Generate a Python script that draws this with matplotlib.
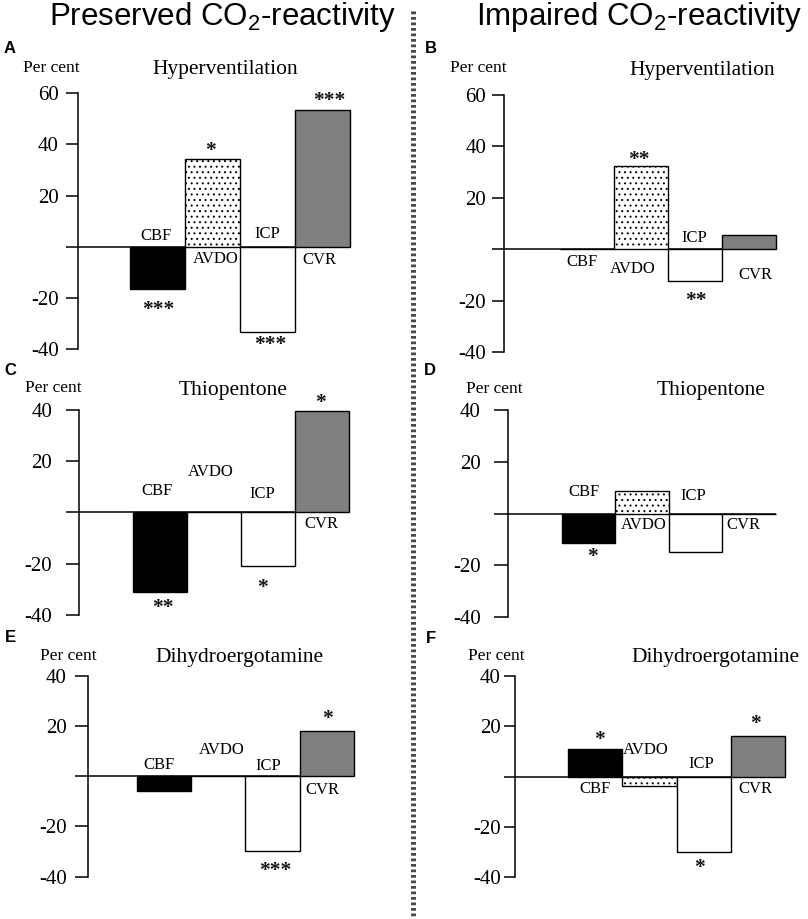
import matplotlib
matplotlib.use('Agg')
import numpy as np
import matplotlib.pyplot as plt
from matplotlib.lines import Line2D
from matplotlib.transforms import ScaledTranslation

plt.rcParams['mathtext.fontset'] = 'custom'
plt.rcParams['mathtext.rm'] = 'Liberation Sans'
plt.rcParams['mathtext.it'] = 'Liberation Sans:italic'
plt.rcParams['mathtext.bf'] = 'Liberation Sans:bold'
plt.rcParams['hatch.linewidth'] = 0.7
plt.rcParams['axes.unicode_minus'] = False

# ---------------- data ----------------
categories = ['CBF', 'AVDO', 'ICP', 'CVR']

hyper_preserved = [-16.4, 34.2, -33.3, 53.4]
hyper_impaired = [0.0, 32.5, -12.2, 5.5]
thio_preserved = [-30.9, 0.0, -20.7, 39.5]
thio_impaired = [-11.3, 8.7, -14.7, 0.0]
dhe_preserved = [-5.9, 0.0, -29.7, 18.1]
dhe_impaired = [11.0, -3.7, -30.3, 16.2]

sig_hyper_preserved = ['***', '*', '***', '***']
sig_hyper_impaired = ['', '**', '**', '']
sig_thio_preserved = ['**', '', '*', '*']
sig_thio_impaired = ['*', '', '', '']
sig_dhe_preserved = ['', '', '***', '*']
sig_dhe_impaired = ['*', '', '*', '*']

yticks_hyper = [60, 40, 20, -20, -40]
yticks_other = [40, 20, -20, -40]

column_titles = ['Preserved CO$_2$-reactivity', 'Impaired CO$_2$-reactivity']

# ---------------- styles / layout ----------------
W, H, DPI = 808, 919, 100
fills = ['black', 'white', 'white', '#808080']
hatches = [None, '...', None, None]
SERIF = 'Liberation Serif'
SANS = 'Liberation Sans'

panels = [
    dict(letter='A', title='Hyperventilation', values=hyper_preserved, sig=sig_hyper_preserved,
         ticks=yticks_hyper, spine=78, first=130, last=350, y0=246.9, ppu=2.5636, ticklen=12, pad=7,
         title_xy=(225, 66.7), percent_xy=(51.7, 66.2), letter_xy=(4, 46.7),
         label_xy=[(1.47, 4.7), (2.55, -4.3), (3.49, 5.8), (4.44, -4.7)],
         star_xy=[(1.51, -22.6), (2.47, 39.4), (3.55, -36.3), (4.62, 58.9)]),
    dict(letter='B', title='Hyperventilation', values=hyper_impaired, sig=sig_hyper_impaired,
         ticks=yticks_hyper, spine=504, first=560, last=776.3, y0=249.2, ppu=2.5727, ticklen=12, pad=6,
         title_xy=(702, 67.5), percent_xy=(478, 66), letter_xy=(424.7, 46.7),
         label_xy=[(1.41, -4.2), (2.35, -7.3), (3.48, 5.1), (4.62, -9.3)],
         star_xy=[None, (2.46, 36.6), (3.51, -18.2), None]),
    dict(letter='C', title='Thiopentone', values=thio_preserved, sig=sig_thio_preserved,
         ticks=yticks_other, spine=79, first=133, last=349, y0=512.4, ppu=2.57, ticklen=13, pad=14,
         title_xy=(233, 388), percent_xy=(53.7, 386.5), letter_xy=(4, 369),
         label_xy=[(1.44, 9.1), (2.44, 16.3), (3.39, 7.9), (4.48, -4.1)],
         star_xy=[(1.56, -35.3), None, (3.39, -27.5), (4.48, 44.5)]),
    dict(letter='D', title='Thiopentone', values=thio_impaired, sig=sig_thio_impaired,
         ticks=yticks_other, spine=508, first=561.7, last=776, y0=513.5, ppu=2.5945, ticklen=14, pad=13,
         title_xy=(711.5, 388), percent_xy=(494.3, 387.5), letter_xy=(424, 369),
         label_xy=[(1.42, 8.7), (2.54, -3.7), (3.46, 7.5), (4.40, -3.7)],
         star_xy=[(1.57, -14.8), None, None, None]),
    dict(letter='E', title='Dihydroergotamine', values=dhe_preserved, sig=sig_dhe_preserved,
         ticks=yticks_other, spine=88, first=136.7, last=354, y0=776.3, ppu=2.508, ticklen=13, pad=8,
         title_xy=(240, 654.7), percent_xy=(68.7, 654), letter_xy=(5, 636),
         label_xy=[(1.41, 5.3), (2.57, 10.9), (3.42, 4.9), (4.41, -4.7)],
         star_xy=[None, None, (3.55, -35.8), (4.52, 24.8)]),
    dict(letter='F', title='Dihydroergotamine', values=dhe_impaired, sig=sig_dhe_impaired,
         ticks=yticks_other, spine=514.7, first=568.3, last=784.7, y0=776.5, ppu=2.505, ticklen=10.7, pad=3.3,
         title_xy=(715.7, 655), percent_xy=(496.8, 653.8), letter_xy=(425.7, 636.7),
         label_xy=[(1.49, -4.5), (2.43, 11.3), (3.46, 5.5), (4.46, -4.5)],
         star_xy=[(1.57, 16.8), None, (3.42, -34.3), (4.46, 23.2)]),
]

fig = plt.figure(figsize=(W / DPI, H / DPI), dpi=DPI)
fig.patch.set_facecolor('white')


def shift(base, fs, frac):
    return base + ScaledTranslation(0, -frac * fs / 72, fig.dpi_scale_trans)


def ftext(xp, yp, s, fs, frac, ha='center', **kw):
    fig.text(xp / W, 1 - yp / H, s, fontsize=fs, ha=ha, va='baseline',
             transform=shift(fig.transFigure, fs, frac), **kw)


for p in panels:
    w = (p['last'] - p['first']) / 4.0
    xl_px = p['spine'] - p['ticklen']
    xl = 1 + (xl_px - p['first']) / w
    spine_data = 1 + (p['spine'] - p['first']) / w
    top = p['ticks'][0]
    ytop = p['y0'] - top * p['ppu']
    ybot = p['y0'] + 40 * p['ppu']
    ax = fig.add_axes([xl_px / W, 1 - ybot / H, (p['last'] - xl_px) / W, (ybot - ytop) / H])
    ax.set_xlim(xl, 5)
    ax.set_ylim(-40, top)
    ax.patch.set_visible(False)
    for s in ['top', 'right', 'bottom']:
        ax.spines[s].set_visible(False)
    ax.spines['left'].set_position(('data', spine_data))
    ax.spines['left'].set_linewidth(1.1)
    ax.set_xticks([])
    ax.set_yticks(p['ticks'])
    ax.set_yticklabels([str(t) for t in p['ticks']], fontfamily=SERIF)
    ax.tick_params(axis='y', direction='out', length=p['ticklen'] * 0.72, width=1.1,
                   pad=p['pad'] * 0.72, labelsize=15)
    ax.axhline(0, color='black', lw=1.1, zorder=1)

    x = np.arange(1, len(categories) + 1)
    bars = ax.bar(x, p['values'], width=1.0, align='edge', color=fills,
                  edgecolor='black', linewidth=1.0, zorder=2)
    for b, h in zip(bars, hatches):
        b.set_clip_on(False)
        if h:
            b.set_hatch(h)

    for name, (lx, ly) in zip(categories, p['label_xy']):
        ax.text(lx, ly, name, fontsize=12, family=SERIF, ha='center', va='baseline',
                transform=shift(ax.transData, 12, 0.33))
    for s, xy in zip(p['sig'], p['star_xy']):
        if s and xy:
            ax.text(xy[0], xy[1], s, fontsize=15.5, family=SERIF, fontweight='bold',
                    ha='center', va='baseline', color='#151515',
                    transform=shift(ax.transData, 15.5, 0.47))

    ftext(*p['title_xy'], p['title'], 15.5, 0.33, family=SERIF)
    ftext(*p['percent_xy'], 'Per cent', 12.5, 0.33, family=SERIF)
    ftext(*p['letter_xy'], p['letter'], 12, 0.358, ha='left', family=SANS, fontweight='bold')

ftext(222.5, 13.5, column_titles[0], 22.5, 0.358, family=SANS)
ftext(639, 13.7, column_titles[1], 22.5, 0.358, family=SANS)

fig.add_artist(Line2D([413.5 / W, 413.5 / W], [1 - 11 / H, 0], transform=fig.transFigure,
                      color='#4a4a4a', lw=3.6, dashes=(0.55, 0.55)))

fig.savefig('out.png', dpi=DPI, facecolor='white')
